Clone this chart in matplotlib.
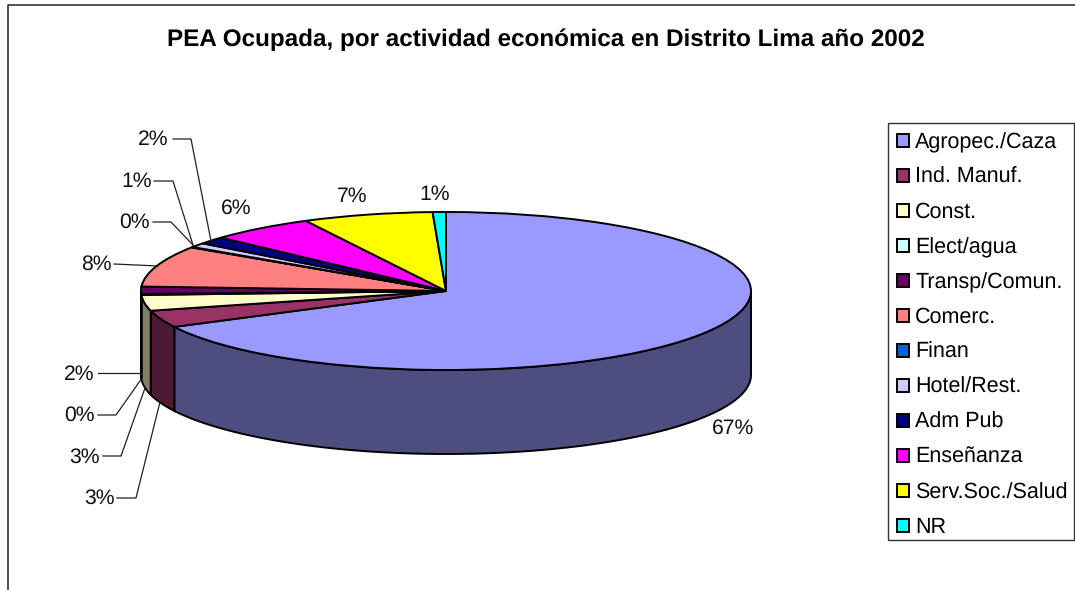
import numpy as np
import matplotlib
matplotlib.use("Agg")
import matplotlib.pyplot as plt
from matplotlib.colors import to_rgb
from matplotlib.patches import Rectangle

plt.rcParams['font.family'] = ['Liberation Sans', 'DejaVu Sans']
plt.rcParams['text.hinting'] = 'no_hinting'

# Data (percent of PEA)
categories = ["Agropec./Caza", "Ind. Manuf.", "Const.", "Elect/agua", "Transp/Comun.", "Comerc.",
              "Finan", "Hotel/Rest.", "Adm Pub", "Enseñanza", "Serv.Soc./Salud", "NR"]
values = [67.49, 3.49, 3.22, 0.2, 1.5, 8.4, 0.1, 0.9, 1.5, 5.6, 6.9, 0.7]
colors = ["#9999FF", "#993366", "#FFFFCC", "#CCFFFF", "#660066", "#FF8080",
          "#0066CC", "#CCCCFF", "#000080", "#FF00FF", "#FFFF00", "#00FFFF"]
title = "PEA Ocupada, por actividad económica en Distrito Lima año 2002"

W, H = 1075, 590
CX, CY, RX, RY, DEPTH = 446, 291, 305, 79, 84

fig = plt.figure(figsize=(W / 100, H / 100), dpi=100)

# pie axes: one data unit = the ellipse radius
ax = fig.add_axes([0, 0, 1, 1])
wedges, _ = ax.pie(values, colors=colors, startangle=90, counterclock=False, radius=1,
                   wedgeprops=dict(edgecolor="black", linewidth=1.4, zorder=3))
ax.set_aspect("auto")
ax.set_xlim(-CX / RX, (W - CX) / RX)
ax.set_ylim((CY - H) / RY, CY / RY)
ax.axis("off")

# side wall of the lower half
edges = np.cumsum([0] + values) / sum(values) * 360
depth = DEPTH / RY
for i, color in enumerate(colors):
    t0, t1 = max(edges[i], 90), min(edges[i + 1], 270)
    if t1 <= t0:
        continue
    t = np.radians(np.linspace(t0, t1, 120))
    x = np.sin(t)
    y = np.cos(t)
    wall = tuple(c * 0.5 for c in to_rgb(color))
    ax.fill(np.r_[x, x[::-1]], np.r_[y, y[::-1] - depth], facecolor=wall,
            edgecolor="black", linewidth=1.4, zorder=2)

# overlay in pixel coordinates for texts and leader lines
ov = fig.add_axes([0, 0, 1, 1], facecolor="none")
ov.set_xlim(0, W)
ov.set_ylim(H, 0)
ov.axis("off")

ov.plot([8, 8, W], [H, 5, 5], color="#333333", lw=1.2, clip_on=False)
ov.text(545.5, 40, title, ha="center", va="center", fontsize=17.5, fontweight="bold")

label_pos = [(733, 428), (99, 498), (84, 457), (79, 415), (79, 374), (96, 264),
             (134, 222), (137, 181), (153, 139), (236, 208), (352, 196), (435, 194)]
for v, (x, y) in zip(values, label_pos):
    ov.text(x, y, f"{v:.0f}%", ha="center", va="center", fontsize=15.2, color="#111111")

leaders = [
    ([117, 136, 160], [498, 498, 402]),
    ([103, 121, 145], [456, 456, 388]),
    ([98, 116, 142], [415, 415, 378]),
    ([98, 141], [373, 373]),
    ([114, 158], [264, 266]),
    ([153, 171, 194], [222, 222, 246]),
    ([154, 173, 193], [181, 181, 245]),
    ([173, 191, 211], [139, 139, 241]),
]
for xs, ys in leaders:
    ov.plot(xs, ys, color="#222222", lw=0.9, zorder=5)

# legend box is drawn separately so its height can follow the row spacing
ov.add_patch(Rectangle((888, 123), W - 888 - 1, 417, facecolor="white", edgecolor="#333333", lw=1.0))
leg = ov.legend(wedges, categories, loc="upper left", bbox_to_anchor=(888 / W, 1 - 123 / H),
                bbox_transform=fig.transFigure, fontsize=15.5, frameon=False,
                borderaxespad=0, borderpad=0.42,
                handlelength=0.55, handleheight=0.55, handletextpad=0.3, labelspacing=0.675)

fig.savefig("out.png", dpi=100)
